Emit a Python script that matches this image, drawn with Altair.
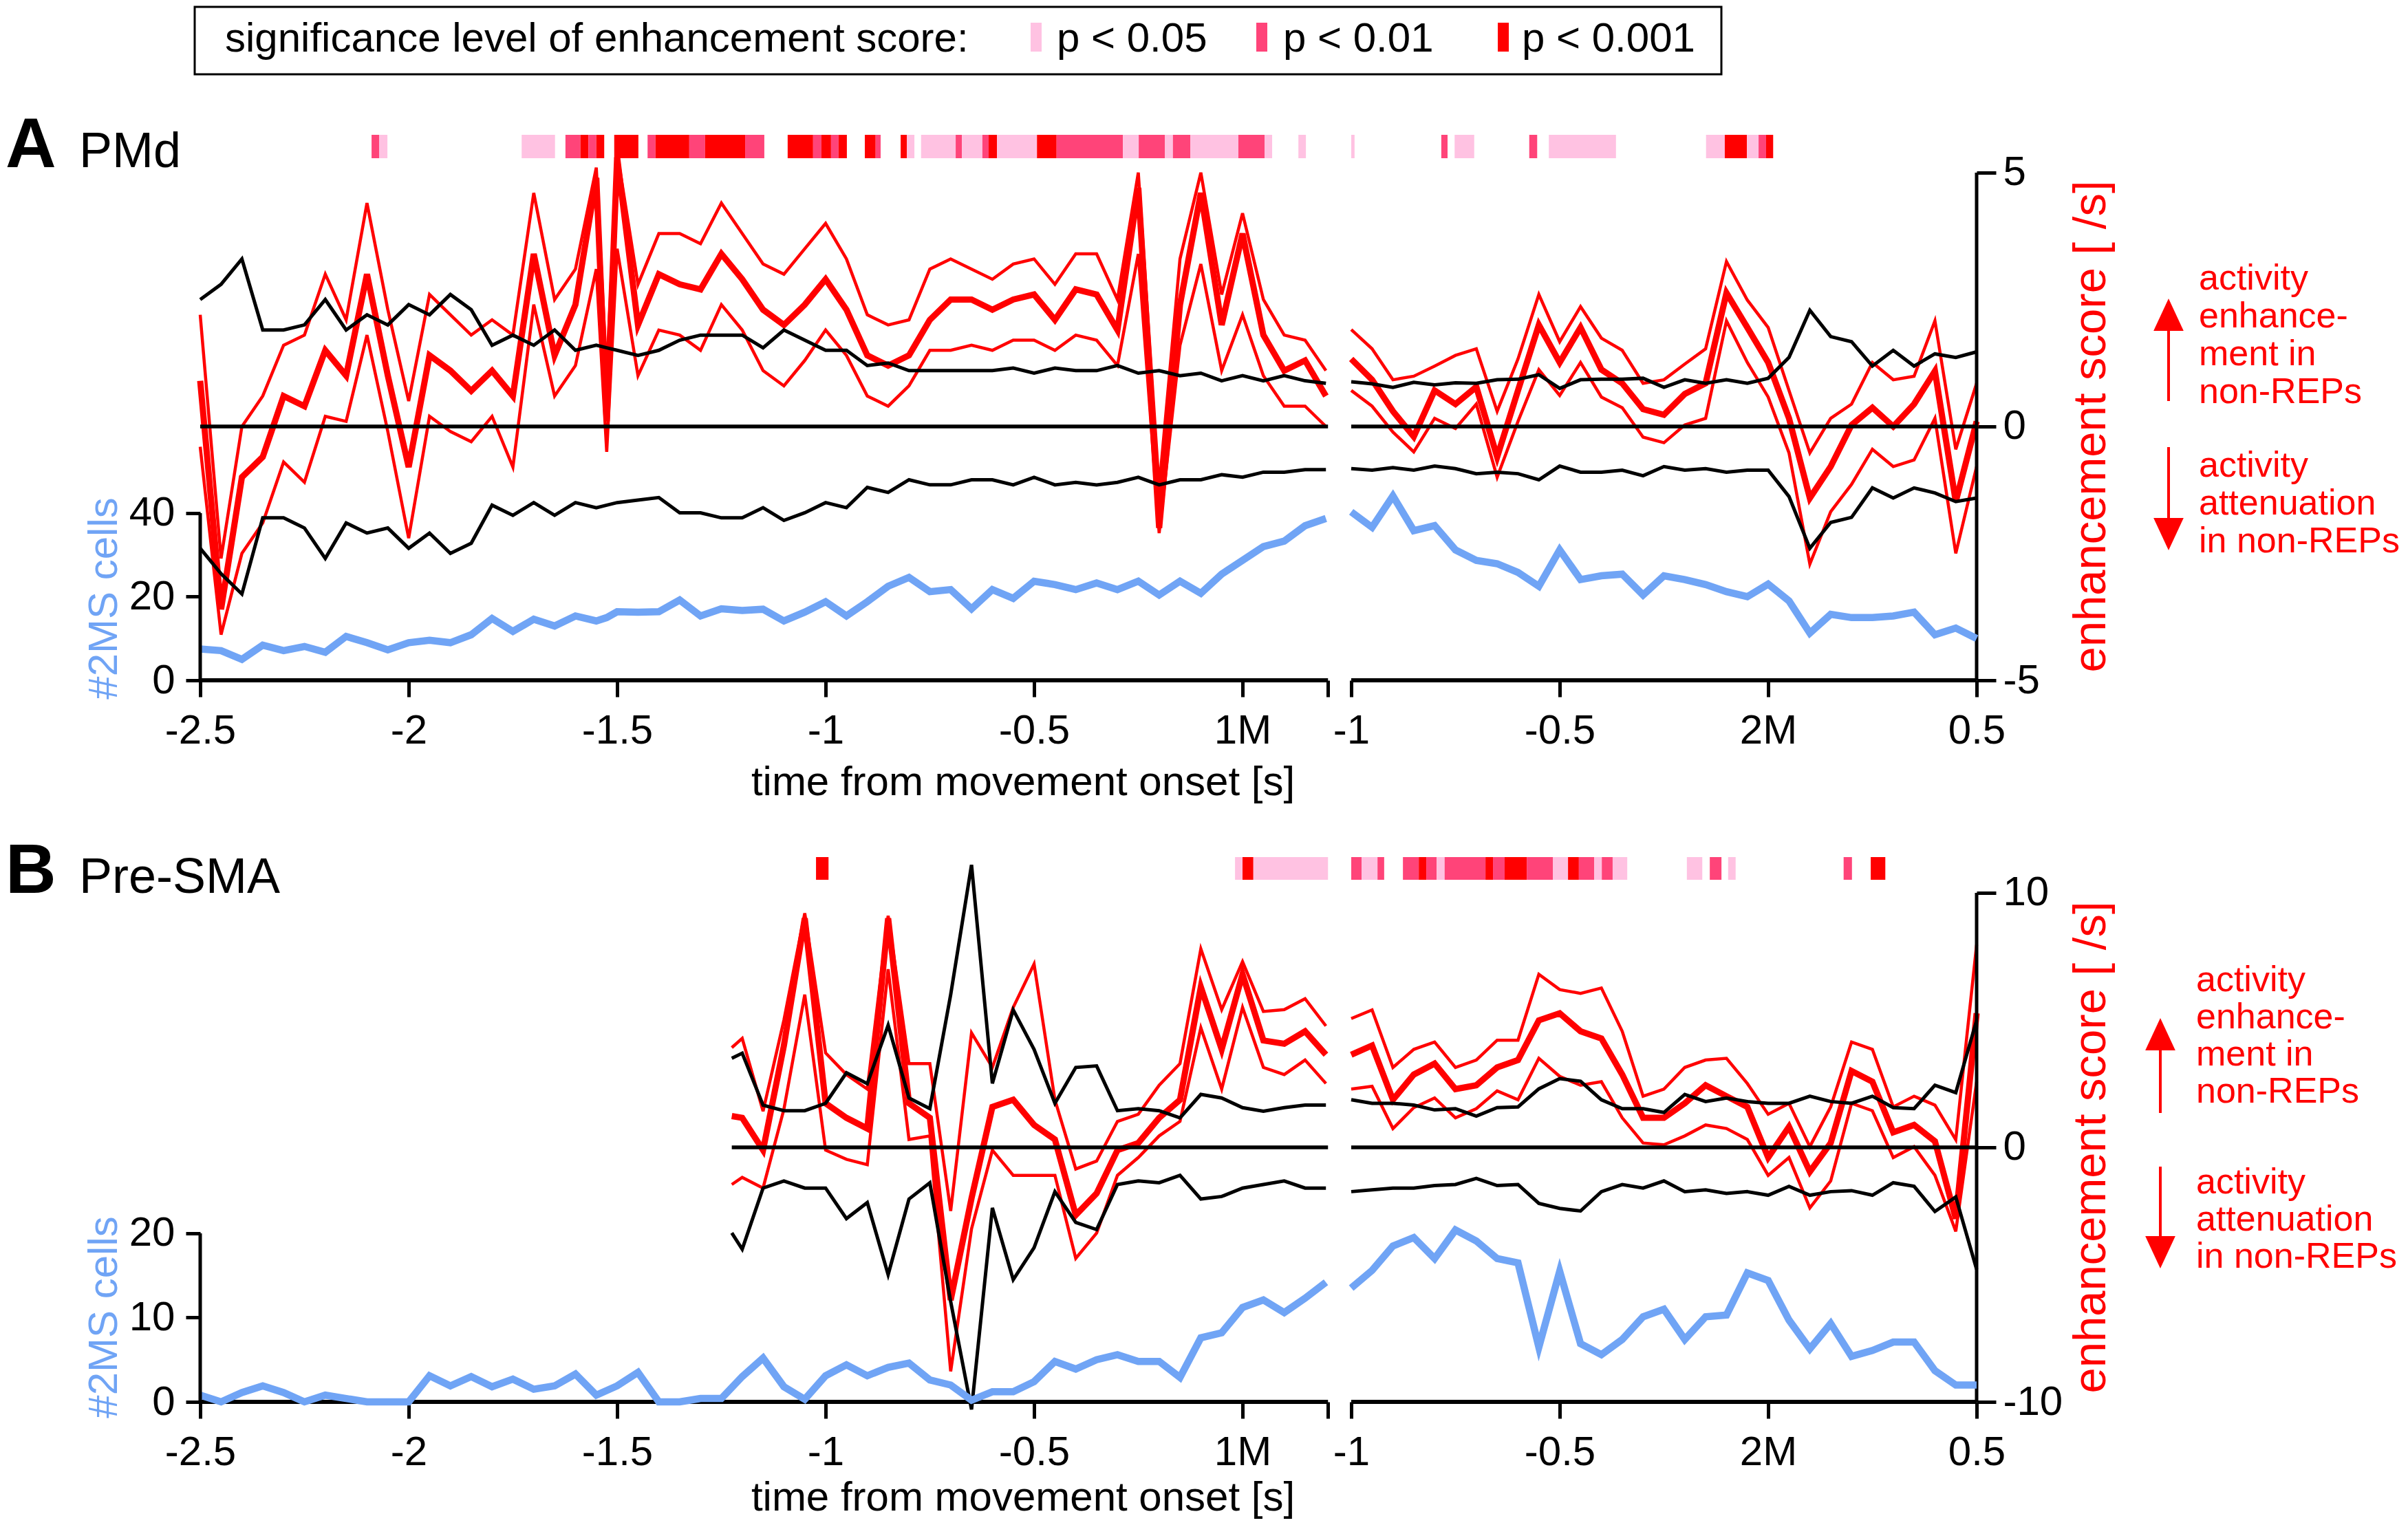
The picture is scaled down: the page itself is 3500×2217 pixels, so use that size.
import altair as alt
import pandas as pd

FONT = "Liberation Sans"
RED = "#FF0000"
BLUE = "#70A4F5"
BLACK = "#000000"

# ---------------- time grids (s) ----------------
T_GRID_LEFT = [round(-2.5 + 0.05 * i, 3) for i in range(55)]   # -2.50 .. 0.20 (rel. 1st movement)
T_A_LEFT = sorted(T_GRID_LEFT + [-1.525])                       # extra sample inside the -1.5 s burst
T_RIGHT = [round(-1.0 + 0.05 * i, 3) for i in range(31)]       # -1.00 .. 0.50 (rel. 2nd movement)
T_B_LEFT = [-1.225] + [round(-1.2 + 0.05 * i, 3) for i in range(29)]

# ---------------- Panel A (PMd) ----------------
A_L_CELLS = [7.5, 7.1, 5.0, 8.4, 7.1, 8.1, 6.7, 10.5, 9.0, 7.3,
             9.0, 9.6, 9.0, 10.9, 14.8, 11.7, 14.6, 13.0, 15.4, 14.2, 15.0,
             16.4, 16.3, 16.4, 19.2, 15.4, 17.1, 16.7, 17.0, 14.2, 16.3,
             18.8, 15.4, 18.8, 22.5, 24.6, 21.2, 21.7, 17.1, 21.7, 19.6,
             23.7, 22.9, 21.7, 23.3, 21.7, 23.7, 20.4, 23.7, 20.8, 25.4,
             28.7, 32.0, 33.3, 37.0, 38.7]
A_L_MEAN = [0.9, -3.6, -1.0, -0.6, 0.6, 0.4, 1.5, 1.0, 3.0, 1.0,
            -0.8, 1.4, 1.1, 0.7, 1.1, 0.6, 3.4, 1.4, 2.4, 4.9, 0.1,
            5.3, 2.0, 3.0, 2.8, 2.7, 3.4, 2.9, 2.3, 2.0, 2.4,
            2.9, 2.3, 1.4, 1.2, 1.4, 2.1, 2.5, 2.5, 2.3, 2.5,
            2.6, 2.1, 2.7, 2.6, 1.9, 4.7, -2.0, 2.4, 4.6, 2.0,
            3.8, 1.8, 1.1, 1.3, 0.6]
A_L_UPPER = [2.2, -2.6, 0.0, 0.6, 1.6, 1.8, 3.0, 2.1, 4.4, 2.3,
             0.5, 2.6, 2.2, 1.8, 2.1, 1.8, 4.6, 2.5, 3.1, 5.1, 1.0,
             5.4, 2.8, 3.8, 3.8, 3.6, 4.4, 3.8, 3.2, 3.0, 3.5,
             4.0, 3.3, 2.2, 2.0, 2.1, 3.1, 3.3, 3.1, 2.9, 3.2,
             3.3, 2.8, 3.4, 3.4, 2.5, 5.0, -1.2, 3.3, 5.0, 2.6,
             4.2, 2.5, 1.8, 1.7, 1.1]
A_L_LOWER = [-0.4, -4.1, -2.5, -1.9, -0.7, -1.1, 0.2, 0.1, 1.8, -0.1,
             -2.2, 0.2, -0.1, -0.3, 0.2, -0.8, 2.4, 0.6, 1.2, 3.1, -0.5,
             3.5, 1.0, 1.9, 1.8, 1.5, 2.4, 1.9, 1.1, 0.8, 1.3,
             1.9, 1.4, 0.6, 0.4, 0.8, 1.5, 1.5, 1.6, 1.5, 1.7,
             1.7, 1.5, 1.8, 1.7, 1.2, 3.4, -2.1, 1.6, 3.2, 1.1,
             2.2, 1.0, 0.4, 0.4, 0.0]
A_L_SIG_HI = [2.5, 2.8, 3.3, 1.9, 1.9, 2.0, 2.5, 1.9, 2.2, 2.0,
              2.4, 2.2, 2.6, 2.3, 1.6, 1.8, 1.6, 1.9, 1.5, 1.6, 1.55,
              1.5, 1.4, 1.5, 1.7, 1.8, 1.8, 1.8, 1.55, 1.9, 1.7,
              1.5, 1.5, 1.2, 1.25, 1.1, 1.1, 1.1, 1.1, 1.1, 1.15,
              1.05, 1.15, 1.1, 1.1, 1.2, 1.05, 1.1, 1.0, 1.05, 0.9,
              1.0, 0.9, 1.0, 0.9, 0.85]
A_L_SIG_LO = [-2.4, -2.9, -3.3, -1.8, -1.8, -2.0, -2.6, -1.9, -2.1, -2.0,
              -2.4, -2.1, -2.5, -2.3, -1.55, -1.75, -1.5, -1.75, -1.5, -1.6, -1.55,
              -1.5, -1.45, -1.4, -1.7, -1.7, -1.8, -1.8, -1.6, -1.85, -1.7,
              -1.5, -1.6, -1.2, -1.3, -1.05, -1.15, -1.15, -1.05, -1.05, -1.15,
              -1.0, -1.15, -1.1, -1.15, -1.1, -1.0, -1.15, -1.05, -1.05, -0.95,
              -1.0, -0.9, -0.9, -0.85, -0.85]

A_R_CELLS = [40.3, 36.6, 44.1, 35.8, 37.0, 31.2, 28.7, 27.9, 25.8, 22.5,
             31.2, 24.1, 25.0, 25.4, 20.4, 25.0, 24.1, 22.9, 21.2, 20.0,
             23.0, 19.0, 11.3, 15.8, 15.0, 15.0, 15.4, 16.3, 10.9, 12.5, 10.0]
A_R_MEAN = [1.33, 0.92, 0.30, -0.2, 0.71, 0.44, 0.78, -0.6, 0.71, 2.0,
            1.26, 1.95, 1.12, 0.85, 0.34, 0.23, 0.64, 0.85, 2.63, 1.95,
            1.26, 0.16, -1.41, -0.79, 0.03, 0.37, 0.0, 0.44, 1.09, -1.48, 0.10]
A_R_UPPER = [1.91, 1.53, 0.92, 0.99, 1.19, 1.40, 1.53, 0.3, 1.33, 2.6,
             1.67, 2.36, 1.74, 1.50, 0.85, 0.92, 1.23, 1.53, 3.25, 2.49,
             1.95, 0.71, -0.52, 0.16, 0.44, 1.26, 0.92, 0.99, 2.08, -0.45, 0.85]
A_R_LOWER = [0.71, 0.40, -0.11, -0.5, 0.16, -0.04, 0.44, -1.0, 0.10, 1.12,
             0.61, 1.26, 0.58, 0.37, -0.21, -0.32, 0.03, 0.16, 2.08, 1.26,
             0.58, -0.52, -2.71, -1.68, -1.14, -0.45, -0.79, -0.66, 0.16, -2.5, -0.79]
A_R_SIG_HI = [0.88, 0.84, 0.77, 0.87, 0.82, 0.86, 0.85, 0.92, 0.93, 1.02,
              0.75, 0.92, 0.93, 0.93, 0.95, 0.77, 0.92, 0.85, 0.92, 0.85,
              0.95, 1.36, 2.29, 1.77, 1.67, 1.19, 1.50, 1.19, 1.43, 1.36, 1.47]
A_R_SIG_LO = [-0.83, -0.86, -0.81, -0.86, -0.78, -0.83, -0.93, -0.90, -0.93, -1.05,
              -0.78, -0.90, -0.90, -0.86, -0.97, -0.79, -0.86, -0.83, -0.90, -0.86,
              -0.86, -1.38, -2.40, -1.89, -1.79, -1.21, -1.41, -1.21, -1.31, -1.48, -1.41]

# ---------------- Panel B (Pre-SMA) ----------------
B_L_CELLS = [0.8, 0.0, 1.1, 1.9, 1.1, 0.0, 0.8, 0.4, 0.0, 0.0,
             0.0, 3.1, 1.9, 3.0, 1.8, 2.7, 1.5, 1.9, 3.3, 0.8,
             1.9, 3.5, 0.0, 0.0, 0.4, 0.4, 3.0, 5.2, 1.8, 0.3,
             3.1, 4.4, 3.1, 4.1, 4.6, 2.6, 2.0, 0.2, 1.2, 1.2,
             2.4, 4.8, 3.9, 5.0, 5.6, 4.8, 4.8, 2.9, 7.6, 8.2,
             11.2, 12.1, 10.6, 12.3, 14.2]
B_L_MEAN = [1.23,
            1.16, -0.11, 4.0, 9.0, 1.73, 1.16, 0.74, 9.0, 1.73, 1.16,
            -6.0, -2.0, 1.59, 1.87, 0.88, 0.31, -2.66, -1.81, -0.11, 0.17,
            1.16, 1.87, 6.3, 3.85, 6.8, 4.2, 4.07, 4.56, 3.64]
B_L_UPPER = [3.92,
             4.28, 1.42, 5.0, 9.2, 3.71, 2.86, 2.29, 9.1, 3.29, 3.29,
             -2.5, 4.5, 3.14, 5.5, 7.2, 1.87, -0.85, -0.54, 1.02, 1.30,
             2.44, 3.29, 7.8, 5.41, 7.3, 5.34, 5.41, 5.84, 4.77]
B_L_LOWER = [-1.46,
             -1.18, -1.60, 1.5, 6.0, -0.11, -0.47, -0.68, 7.0, 0.31, 0.45,
             -8.8, -3.2, -0.11, -1.10, -1.10, -1.10, -4.36, -3.37, -1.10, -0.40,
             0.45, 1.02, 4.7, 2.29, 5.5, 3.14, 2.86, 3.43, 2.51]
B_L_SIG_HI = [3.5,
              3.7, 1.66, 1.44, 1.44, 1.73, 2.93, 2.5, 4.8, 1.94, 1.52,
              6.0, 11.1, 2.51, 5.4, 3.85, 1.73, 3.14, 3.2, 1.44, 1.52,
              1.44, 1.16, 2.08, 1.94, 1.56, 1.42, 1.56, 1.66, 1.66]
B_L_SIG_LO = [-3.36,
              -4.0, -1.60, -1.32, -1.60, -1.60, -2.80, -2.17, -5.0, -2.03, -1.39,
              -6.06, -10.3, -2.38, -5.2, -3.94, -1.74, -2.95, -3.23, -1.46, -1.32,
              -1.39, -1.10, -2.03, -1.93, -1.60, -1.46, -1.32, -1.60, -1.60]

B_R_CELLS = [13.5, 15.6, 18.5, 19.5, 17.0, 20.4, 19.1, 17.0, 16.5, 6.5,
             15.5, 6.9, 5.6, 7.4, 10.1, 11.0, 7.4, 10.1, 10.3, 15.3,
             14.4, 9.7, 6.3, 9.3, 5.4, 6.1, 7.1, 7.1, 3.7, 2.0, 2.0]
B_R_MEAN = [3.64, 4.0, 1.87, 2.86, 3.29, 2.29, 2.44, 3.14, 3.43, 4.99,
            5.27, 4.56, 4.28, 2.86, 1.16, 1.16, 1.73, 2.44, 2.01, 1.59,
            -0.40, 0.81, -0.96, 0.17, 3.00, 2.58, 0.59, 0.88, 0.24, -2.8, 5.27]
B_R_UPPER = [5.06, 5.4, 3.14, 3.85, 4.14, 3.14, 3.43, 4.21, 4.21, 6.8,
             6.2, 6.05, 6.26, 4.56, 2.01, 2.29, 3.14, 3.43, 3.50, 2.51,
             1.30, 1.73, 0.03, 1.59, 4.14, 3.85, 1.59, 2.01, 1.66, 0.3, 7.96]
B_R_LOWER = [2.29, 2.4, 0.74, 1.56, 1.94, 1.16, 1.52, 2.22, 1.87, 3.50,
             2.79, 2.44, 2.58, 1.16, 0.17, 0.10, 0.45, 0.88, 0.74, 0.31,
             -1.10, -0.40, -2.38, -1.32, 1.73, 1.44, -0.40, 0.03, -1.10, -3.3, 2.58]
B_R_SIG_HI = [1.87, 1.73, 1.73, 1.66, 1.47, 1.52, 1.23, 1.56, 1.59, 2.3,
              2.7, 2.6, 1.87, 1.52, 1.52, 1.37, 2.08, 1.80, 1.94, 1.80,
              1.73, 1.73, 2.01, 1.80, 1.73, 2.01, 1.56, 1.52, 2.44, 2.15, 4.99]
B_R_SIG_LO = [-1.74, -1.67, -1.60, -1.60, -1.50, -1.46, -1.22, -1.50, -1.46, -2.2,
              -2.4, -2.5, -1.74, -1.46, -1.60, -1.32, -1.74, -1.67, -1.81, -1.74,
              -1.88, -1.53, -1.88, -1.74, -1.70, -1.88, -1.39, -1.53, -2.52, -1.95, -4.79]

# ---------------- significance strips: (segment, start, end, level) ----------------
LEVELS = ["p < 0.05", "p < 0.01", "p < 0.001"]
LEVEL_COLORS = ["#FFC2E2", "#FF4479", "#FF0000"]

STRIP_A = [
    (1, -2.089, -2.071, 2), (1, -2.071, -2.051, 1),
    (1, -1.729, -1.649, 1),
    (1, -1.624, -1.588, 2), (1, -1.588, -1.569, 3), (1, -1.569, -1.550, 2), (1, -1.550, -1.531, 3),
    (1, -1.507, -1.449, 3),
    (1, -1.427, -1.408, 2), (1, -1.408, -1.327, 3), (1, -1.327, -1.289, 2), (1, -1.289, -1.193, 3),
    (1, -1.193, -1.147, 2),
    (1, -1.091, -1.030, 3), (1, -1.030, -1.010, 2), (1, -1.010, -0.987, 3), (1, -0.987, -0.969, 2),
    (1, -0.969, -0.949, 3),
    (1, -0.906, -0.880, 3), (1, -0.880, -0.868, 2),
    (1, -0.820, -0.805, 3), (1, -0.805, -0.787, 1),
    (1, -0.771, -0.688, 1), (1, -0.688, -0.673, 2), (1, -0.673, -0.624, 1), (1, -0.624, -0.609, 2),
    (1, -0.609, -0.589, 3), (1, -0.589, -0.493, 1),
    (1, -0.493, -0.446, 3), (1, -0.446, -0.287, 2), (1, -0.287, -0.249, 1), (1, -0.249, -0.186, 2),
    (1, -0.186, -0.167, 1), (1, -0.167, -0.125, 2), (1, -0.125, -0.010, 1),
    (1, -0.010, 0.053, 2), (1, 0.053, 0.071, 1), (1, 0.134, 0.152, 1),
    (2, -1.000, -0.992, 1),
    (2, -0.784, -0.769, 2), (2, -0.752, -0.705, 1), (2, -0.573, -0.554, 2), (2, -0.526, -0.365, 1),
    (2, -0.149, -0.104, 1), (2, -0.104, -0.051, 3), (2, -0.051, -0.023, 1), (2, -0.023, -0.005, 2),
    (2, -0.005, 0.012, 3),
]
STRIP_B = [
    (1, -1.023, -0.993, 3),
    (1, -0.018, 0.000, 1), (1, 0.000, 0.026, 3), (1, 0.026, 0.205, 1),
    (2, -1.000, -0.975, 2), (2, -0.975, -0.937, 1), (2, -0.937, -0.921, 2),
    (2, -0.876, -0.838, 2), (2, -0.838, -0.820, 3), (2, -0.820, -0.795, 2), (2, -0.795, -0.776, 1),
    (2, -0.776, -0.678, 2), (2, -0.678, -0.660, 3), (2, -0.660, -0.632, 2), (2, -0.632, -0.579, 3),
    (2, -0.579, -0.516, 2), (2, -0.516, -0.480, 1), (2, -0.480, -0.454, 3), (2, -0.454, -0.417, 2),
    (2, -0.417, -0.399, 1), (2, -0.399, -0.373, 2), (2, -0.373, -0.338, 1),
    (2, -0.195, -0.158, 1), (2, -0.140, -0.112, 2), (2, -0.096, -0.078, 1),
    (2, 0.181, 0.201, 2), (2, 0.246, 0.281, 3),
]

# ---------------- axis segments and ticks ----------------
SEG_BOUNDS = [(1, -2.5, 0.205), (2, -1.0, 0.5)]
ZERO_A = [(1, -2.5, 0.205), (2, -1.0, 0.5)]
ZERO_B = [(1, -1.225, 0.205), (2, -1.0, 0.5)]
TICK_T_LEFT = [-2.5, -2.0, -1.5, -1.0, -0.5, 0.0]
TICK_LBL_LEFT = ["-2.5", "-2", "-1.5", "-1", "-0.5", "1M"]
TICK_T_RIGHT = [-1.0, -0.5, 0.0, 0.5]
TICK_LBL_RIGHT = ["-1", "-0.5", "2M", "0.5"]

# broken time axis: left block starts at -2.5, right block after a small gap
OFF_L = 2.5
OFF_R = 3.7607
U_MAX = 4.2607
W = 2582

X_TICK_POS = ([round(t + OFF_L, 4) for t in TICK_T_LEFT] + [round(0.205 + OFF_L, 4)]
              + [round(t + OFF_R, 4) for t in TICK_T_RIGHT])
X_TICK_LBL = TICK_LBL_LEFT + [""] + TICK_LBL_RIGHT
_expr = "''"
for _p, _l in reversed(list(zip(X_TICK_POS, X_TICK_LBL))):
    _expr = f"abs(datum.value - {_p}) < 0.001 ? '{_l}' : ({_expr})"
X_LABEL_EXPR = _expr


def u_expr(field):
    return f"datum.seg == 1 ? datum.{field} + {OFF_L} : datum.{field} + {OFF_R}"


def long_frame(items):
    rows = []
    for name, seg, ts, vs in items:
        if len(ts) != len(vs):
            raise ValueError(f"{name}/{seg}: {len(ts)} times vs {len(vs)} values")
        for t, v in zip(ts, vs):
            rows.append({"series": name, "seg": seg, "t": t, "v": v, "key": f"{name}-{seg}"})
    return pd.DataFrame(rows)


ONE = pd.DataFrame({"k": [0]})


def text_layer(s, x, y, size, color=BLACK, bold=False, align="left",
               baseline="alphabetic", angle=0, lh=None):
    kw = dict(font=FONT, fontSize=size, color=color, align=align, baseline=baseline)
    if angle:
        kw["angle"] = angle
    if bold:
        kw["fontWeight"] = "bold"
    if lh:
        kw["lineBreak"] = "\n"
        kw["lineHeight"] = lh
    return alt.Chart(pd.DataFrame({"label": [s]})).mark_text(**kw).encode(
        text="label:N", x=alt.value(x), y=alt.value(y))


def box_layer(x0, x1, y0, y1, fill, stroke=None, sw=0):
    kw = dict(fill=fill)
    if stroke:
        kw.update(stroke=stroke, strokeWidth=sw)
    else:
        kw.update(strokeWidth=0)
    return alt.Chart(ONE).mark_rect(**kw).encode(
        x=alt.value(x0), x2=alt.value(x1), y=alt.value(y0), y2=alt.value(y1))


UP_HEAD = "M0,-1L0.93,1L-0.93,1Z"
DOWN_HEAD = "M0,1L0.93,-1L-0.93,-1Z"


def arrow_layers(x, y_tail, y_tip, up):
    hh = 47
    if up:
        yc, yend = y_tip + hh / 2, y_tip + hh * 0.8
    else:
        yc, yend = y_tip - hh / 2, y_tip - hh * 0.8
    line = alt.Chart(ONE).mark_rule(color=RED, strokeWidth=4).encode(
        x=alt.value(x), y=alt.value(y_tail), y2=alt.value(yend))
    head = alt.Chart(ONE).mark_point(shape=UP_HEAD if up else DOWN_HEAD, filled=True, color=RED,
                                     size=hh * hh, opacity=1, strokeWidth=0).encode(
        x=alt.value(x), y=alt.value(yc))
    return [line, head]


def make_panel(df, strips, zero_segs, cfg, extra_texts):
    h = cfg["height"]
    xscale = alt.Scale(domain=[0, U_MAX], nice=False, zero=False)
    xaxis = alt.Axis(values=X_TICK_POS, labelExpr=X_LABEL_EXPR, domain=False, grid=False,
                     tickSize=24, tickWidth=5, tickColor=BLACK, labelFont=FONT, labelFontSize=60,
                     labelColor=BLACK, labelPadding=20, labelFlush=False, labelOverlap=False,
                     labelBound=False, title=None)
    X = alt.X("u:Q", scale=xscale, axis=xaxis)

    enh_scale = alt.Scale(domain=cfg["enh_domain"], nice=False, zero=False)
    enh_axis = alt.Axis(orient="right", values=cfg["enh_ticks"], domain=False, grid=False,
                        tickSize=28, tickWidth=5, tickColor=BLACK, labelFont=FONT, labelFontSize=60,
                        labelColor=BLACK, labelPadding=10, labelFlush=False, labelOverlap=False,
                        labelExpr="datum.value < 0 ? '-' + abs(datum.value) : '' + datum.value",
                        title=None)
    cells_scale = alt.Scale(domain=cfg["cells_domain"], nice=False, zero=False)
    cells_axis = alt.Axis(orient="left", values=cfg["cells_ticks"], domain=False, grid=False,
                          tickSize=21, tickWidth=5, tickColor=BLACK, labelFont=FONT, labelFontSize=60,
                          labelColor=BLACK, labelPadding=16, labelFlush=False, labelOverlap=False,
                          title=None)
    Yenh = alt.Y("v:Q", scale=enh_scale, axis=enh_axis)
    Ycells = alt.Y("v:Q", scale=cells_scale, axis=cells_axis)

    base = alt.Chart(df).transform_calculate(u=u_expr("t"))

    def lines(names, color, width):
        cond = " || ".join(f"datum.series == '{n}'" for n in names)
        return base.transform_filter(cond).mark_line(color=color, strokeWidth=width).encode(
            x=X, y=Yenh, detail="key:N")

    strip_df = pd.DataFrame(strips, columns=["seg", "t0", "t1", "lvl"])
    strip_df["level"] = [LEVELS[i - 1] for i in strip_df["lvl"]]
    strip = alt.Chart(strip_df).transform_calculate(u0=u_expr("t0"), u1=u_expr("t1")).mark_rect(
        strokeWidth=0).encode(
        x=alt.X("u0:Q", scale=xscale, axis=xaxis), x2="u1:Q",
        y=alt.value(0), y2=alt.value(cfg["strip_h"]),
        color=alt.Color("level:N", scale=alt.Scale(domain=LEVELS, range=LEVEL_COLORS), legend=None))

    zero_df = pd.DataFrame(zero_segs, columns=["seg", "t0", "t1"])
    zero = alt.Chart(zero_df).transform_calculate(u0=u_expr("t0"), u1=u_expr("t1")).mark_rule(
        color=BLACK, strokeWidth=5.5).encode(
        x=alt.X("u0:Q", scale=xscale, axis=xaxis), x2="u1:Q",
        y=alt.YDatum(0, type="quantitative", scale=enh_scale, axis=enh_axis))

    seg_df = pd.DataFrame(SEG_BOUNDS, columns=["seg", "t0", "t1"])
    xline = alt.Chart(seg_df).transform_calculate(u0=u_expr("t0"), u1=u_expr("t1")).mark_rule(
        color=BLACK, strokeWidth=6).encode(
        x=alt.X("u0:Q", scale=xscale, axis=xaxis), x2="u1:Q", y=alt.value(h))

    raxis = alt.Chart(ONE).mark_rule(color=BLACK, strokeWidth=5).encode(
        x=alt.value(W),
        y=alt.YDatum(cfg["enh_ticks"][0], type="quantitative", scale=enh_scale, axis=enh_axis),
        y2=alt.datum(cfg["enh_ticks"][-1]))

    blue = base.transform_filter("datum.series == 'cells'").mark_line(
        color=BLUE, strokeWidth=10.5).encode(x=X, y=Ycells, detail="key:N")
    laxis = alt.Chart(ONE).mark_rule(color=BLACK, strokeWidth=5).encode(
        x=alt.value(0),
        y=alt.YDatum(0, type="quantitative", scale=cells_scale, axis=cells_axis),
        y2=alt.datum(cfg["cells_ticks"][-1]))

    texts = [
        text_layer(cfg["letter"], -283, cfg["title_base"], 102, bold=True),
        text_layer(cfg["name"], -176, cfg["title_base"], 72),
        text_layer("time from movement onset [s]", 1196, cfg["xtitle_y"], 60,
                   align="center", baseline="middle"),
        text_layer("enhancement score [ /s]", 2749, cfg["zero_px"], 67, color=RED,
                   align="center", baseline="middle", angle=270),
        text_layer("#2MS cells", -139, cfg["cells_title_y"], 60, color=BLUE,
                   align="center", baseline="middle", angle=270),
        text_layer("activity\nenhance-\nment in\nnon-REPs", cfg["ann_x"], cfg["ann_up_y"], 52,
                   color=RED, lh=cfg["ann_lh"]),
        text_layer("activity\nattenuation\nin non-REPs", cfg["ann_x"], cfg["ann_dn_y"], 52,
                   color=RED, lh=cfg["ann_lh"]),
    ]
    arrows = (arrow_layers(cfg["arrow_x"], cfg["up"][0], cfg["up"][1], True)
              + arrow_layers(cfg["arrow_x"], cfg["down"][0], cfg["down"][1], False))

    enh_group = alt.layer(strip, lines(["upper", "lower"], RED, 4.5), lines(["mean"], RED, 9),
                          lines(["sighi", "siglo"], BLACK, 5), zero, xline, raxis,
                          *texts, *arrows, *extra_texts)
    cells_group = alt.layer(blue, laxis)
    return alt.layer(enh_group, cells_group).resolve_scale(y="independent").properties(
        width=W, height=h)


df_A = long_frame([
    ("cells", 1, T_A_LEFT, A_L_CELLS), ("mean", 1, T_A_LEFT, A_L_MEAN),
    ("upper", 1, T_A_LEFT, A_L_UPPER), ("lower", 1, T_A_LEFT, A_L_LOWER),
    ("sighi", 1, T_A_LEFT, A_L_SIG_HI), ("siglo", 1, T_A_LEFT, A_L_SIG_LO),
    ("cells", 2, T_RIGHT, A_R_CELLS), ("mean", 2, T_RIGHT, A_R_MEAN),
    ("upper", 2, T_RIGHT, A_R_UPPER), ("lower", 2, T_RIGHT, A_R_LOWER),
    ("sighi", 2, T_RIGHT, A_R_SIG_HI), ("siglo", 2, T_RIGHT, A_R_SIG_LO),
])
df_B = long_frame([
    ("cells", 1, T_GRID_LEFT, B_L_CELLS), ("mean", 1, T_B_LEFT, B_L_MEAN),
    ("upper", 1, T_B_LEFT, B_L_UPPER), ("lower", 1, T_B_LEFT, B_L_LOWER),
    ("sighi", 1, T_B_LEFT, B_L_SIG_HI), ("siglo", 1, T_B_LEFT, B_L_SIG_LO),
    ("cells", 2, T_RIGHT, B_R_CELLS), ("mean", 2, T_RIGHT, B_R_MEAN),
    ("upper", 2, T_RIGHT, B_R_UPPER), ("lower", 2, T_RIGHT, B_R_LOWER),
    ("sighi", 2, T_RIGHT, B_R_SIG_HI), ("siglo", 2, T_RIGHT, B_R_SIG_LO),
])

CFG_A = dict(height=793, enh_domain=[-5, 5.745], enh_ticks=[-5, 0, 5],
             cells_domain=[0, 130.5], cells_ticks=[0, 20, 40], strip_h=34,
             letter="A", name="PMd", title_base=47, xtitle_y=942, zero_px=424,
             cells_title_y=674, ann_x=2905, ann_up_y=225, ann_dn_y=497, ann_lh=55,
             arrow_x=2861, up=(387, 238), down=(454, 604))
CFG_B = dict(height=792, enh_domain=[-10, 11.405], enh_ticks=[-10, 0, 10],
             cells_domain=[0, 64.65], cells_ticks=[0, 10, 20], strip_h=33,
             letter="B", name="Pre-SMA", title_base=52, xtitle_y=932, zero_px=422,
             cells_title_y=669, ann_x=2901, ann_up_y=195, ann_dn_y=489, ann_lh=54,
             arrow_x=2849, up=(372, 234), down=(450, 598))

# legend box (drawn inside panel A's coordinate frame, above the plot)
LEGEND_TITLE = "significance level of enhancement score:"
LEGEND_MARK_X = [1207, 1535, 1886]
LEGEND_TEXT_X = [1245, 1574, 1921]
legend_layers = [box_layer(-8, 2211, -186, -88, "white", BLACK, 3),
                 text_layer(LEGEND_TITLE, 36, -121, 60)]
for lvl, col, mx, tx in zip(LEVELS, LEVEL_COLORS, LEGEND_MARK_X, LEGEND_TEXT_X):
    legend_layers.append(box_layer(mx, mx + 16, -163, -121, col))
    legend_layers.append(text_layer(lvl, tx, -121, 60))

panel_A = make_panel(df_A, STRIP_A, ZERO_A, CFG_A, legend_layers)
panel_B = make_panel(df_B, STRIP_B, ZERO_B, CFG_B, [])

chart = alt.vconcat(panel_A, panel_B, spacing=257, bounds="flush").properties(
    padding=0, background="white").configure_view(stroke=None)

chart.save("out.html", embed_options={"renderer": "svg", "actions": False})
